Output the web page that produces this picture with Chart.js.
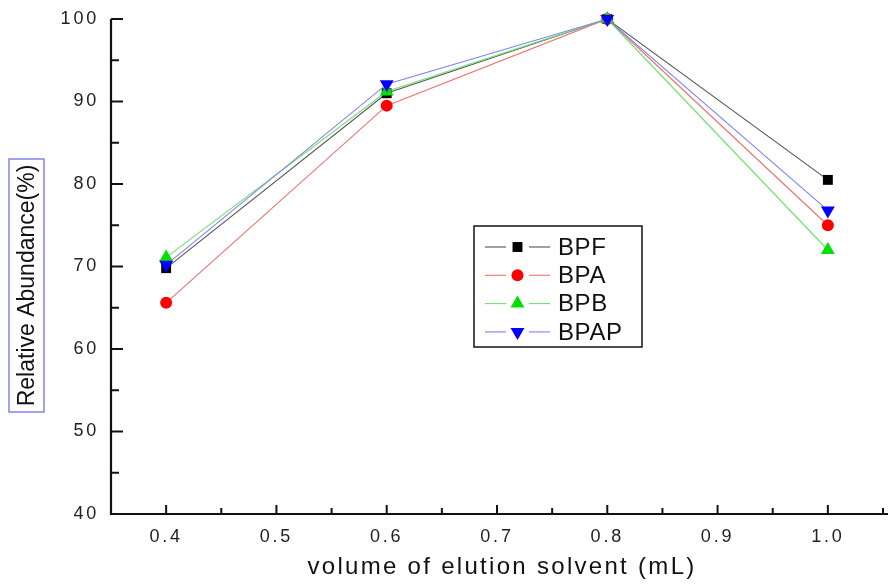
<!DOCTYPE html>
<html>
<head>
<meta charset="utf-8">
<script src="https://cdn.jsdelivr.net/npm/chart.js@4.4.1/dist/chart.umd.min.js"></script>
<style>
html,body{margin:0;padding:0;background:#fff;}
#wrap{width:891px;height:584px;position:relative;}
</style>
</head>
<body>
<div id="wrap"><canvas id="c" width="891" height="584"></canvas></div>
<script>
const volumes = [0.4, 0.6, 0.8, 1.0];
const BPF  = [69.8, 91.0, 100, 80.5];
const BPA  = [65.6, 89.5, 100, 75.0];
const BPB  = [71.1, 91.2, 100, 72.0];
const BPAP = [70.2, 92.1, 100, 76.8];
const seriesNames = ['BPF', 'BPA', 'BPB', 'BPAP'];
const xTicks = [0.4, 0.5, 0.6, 0.7, 0.8, 0.9, 1.0];
const yTicks = [40, 50, 60, 70, 80, 90, 100];

const FONT = "'Liberation Sans', Arial, sans-serif";

function pts(vals){ return vals.map((v,i)=>({x: volumes[i], y: v})); }

const styles = [
  {line:'#555555', point:'#000000', shape:'rect', rot:0, r:7},
  {line:'#f07070', point:'#ff0000', shape:'circle', rot:0, r:6},
  {line:'#70e070', point:'#00e000', shape:'triangle', rot:0, r:8},
  {line:'#8080f0', point:'#0000ff', shape:'triangle', rot:180, r:8}
];
const allVals = [BPF, BPA, BPB, BPAP];

const datasets = allVals.map((vals, i) => ({
  label: seriesNames[i],
  data: pts(vals),
  order: allVals.length - 1 - i,
  borderColor: styles[i].line,
  borderWidth: 1.1,
  backgroundColor: styles[i].point,
  pointBackgroundColor: styles[i].point,
  pointBorderColor: styles[i].point,
  pointBorderWidth: 0,
  pointStyle: styles[i].shape,
  pointRotation: styles[i].rot,
  pointRadius: styles[i].r,
  tension: 0,
  clip: false
}));

const frame = {
  id: 'frame',
  beforeDraw(chart){ chart.ctx.letterSpacing = '2.8px'; },
  afterDraw(chart){
    const ctx = chart.ctx;
    ctx.letterSpacing = '0px';
    const xs = chart.scales.x, ys = chart.scales.y;
    const L = chart.chartArea.left, B = chart.chartArea.bottom, T = chart.chartArea.top, R = chart.chartArea.right;
    ctx.save();
    ctx.strokeStyle = '#111';
    ctx.lineWidth = 2.2;
    ctx.beginPath();
    ctx.moveTo(L, T); ctx.lineTo(L, B); ctx.lineTo(R + 5, B);
    ctx.stroke();
    ctx.lineWidth = 2;
    for (let v = 40; v <= 100; v += 5) {
      const y = ys.getPixelForValue(v);
      const len = (v % 10 === 0) ? 12 : 8;
      ctx.beginPath(); ctx.moveTo(L, y); ctx.lineTo(L + len, y); ctx.stroke();
    }
    for (let k = 0; k <= 14; k++) {
      const v = 0.35 + k * 0.05;
      if (v < 0.39) continue;
      const x = xs.getPixelForValue(v);
      if (x > R + 1) continue;
      const len = (k % 2 === 1) ? 9 : 6;
      ctx.beginPath(); ctx.moveTo(x, B); ctx.lineTo(x, B - len); ctx.stroke();
    }
    ctx.restore();

    // x axis title
    ctx.save();
    ctx.font = '24px ' + FONT;
    ctx.letterSpacing = '2.3px';
    ctx.fillStyle = '#111';
    ctx.textAlign = 'left';
    ctx.textBaseline = 'middle';
    const xt = 'volume of elution solvent (mL)';
    const xw = ctx.measureText(xt).width;
    ctx.fillText(xt, 502 - xw / 2, 567);
    ctx.restore();

    // y axis title with box
    ctx.save();
    ctx.translate(26.5, 285.5);
    ctx.rotate(-Math.PI / 2);
    ctx.font = '23px ' + FONT;
    ctx.fillStyle = '#111';
    ctx.textAlign = 'center';
    ctx.textBaseline = 'middle';
    ctx.fillText('Relative Abundance(%)', 0, 1);
    ctx.strokeStyle = '#7070ee';
    ctx.lineWidth = 1.3;
    ctx.strokeRect(-126.5, -17.5, 253, 35);
    ctx.restore();

    // legend box
    ctx.save();
    ctx.letterSpacing = '0.6px';
    const lx = 474, ly = 226, lw = 168, lh = 121;
    ctx.strokeStyle = '#222'; ctx.lineWidth = 1.6;
    ctx.strokeRect(lx, ly, lw, lh);
    ctx.font = '24px ' + FONT;
    ctx.textBaseline = 'middle';
    chart.data.datasets.forEach((ds, i) => {
      const cy = ly + 21 + i * 28.3;
      ctx.strokeStyle = ds.borderColor; ctx.lineWidth = 1.1;
      ctx.beginPath(); ctx.moveTo(lx + 11, cy); ctx.lineTo(lx + 32, cy); ctx.stroke();
      ctx.beginPath(); ctx.moveTo(lx + 55, cy); ctx.lineTo(lx + 76, cy); ctx.stroke();
      ctx.fillStyle = ds.pointBackgroundColor;
      Chart.helpers.drawPoint(ctx, {pointStyle: ds.pointStyle, rotation: ds.pointRotation, radius: ds.pointRadius, borderWidth: 0}, lx + 43.5, cy);
      ctx.fillStyle = '#111';
      ctx.fillText(ds.label, lx + 84, cy + 1);
    });
    ctx.restore();
  }
};

new Chart(document.getElementById('c'), {
  type: 'line',
  data: { datasets },
  options: {
    responsive: false,
    animation: false,
    devicePixelRatio: 1,
    layout: { padding: { top: 19, right: 0, left: 0, bottom: 0 } },
    plugins: { legend: { display: false }, tooltip: { enabled: false } },
    scales: {
      x: {
        type: 'linear', min: 0.35, max: 1.05,
        border: { display: false },
        grid: { display: false, drawTicks: false },
        afterBuildTicks(s){ s.ticks = xTicks.map(v => ({value: v})); },
        ticks: {
          padding: 12,
          color: '#222',
          font: { family: FONT, size: 18 },
          callback: v => v.toFixed(1)
        },
        afterFit(s){ s.height = 70; s.paddingLeft = 0; s.paddingRight = 0; }
      },
      y: {
        type: 'linear', min: 40, max: 100,
        border: { display: false },
        grid: { display: false, drawTicks: false },
        afterBuildTicks(s){ s.ticks = yTicks.map(v => ({value: v})); },
        ticks: {
          padding: 12,
          color: '#222',
          font: { family: FONT, size: 18 }
        },
        afterFit(s){ s.width = 111; s.paddingTop = 0; s.paddingBottom = 0; }
      }
    }
  },
  plugins: [frame]
});
</script>
</body>
</html>
